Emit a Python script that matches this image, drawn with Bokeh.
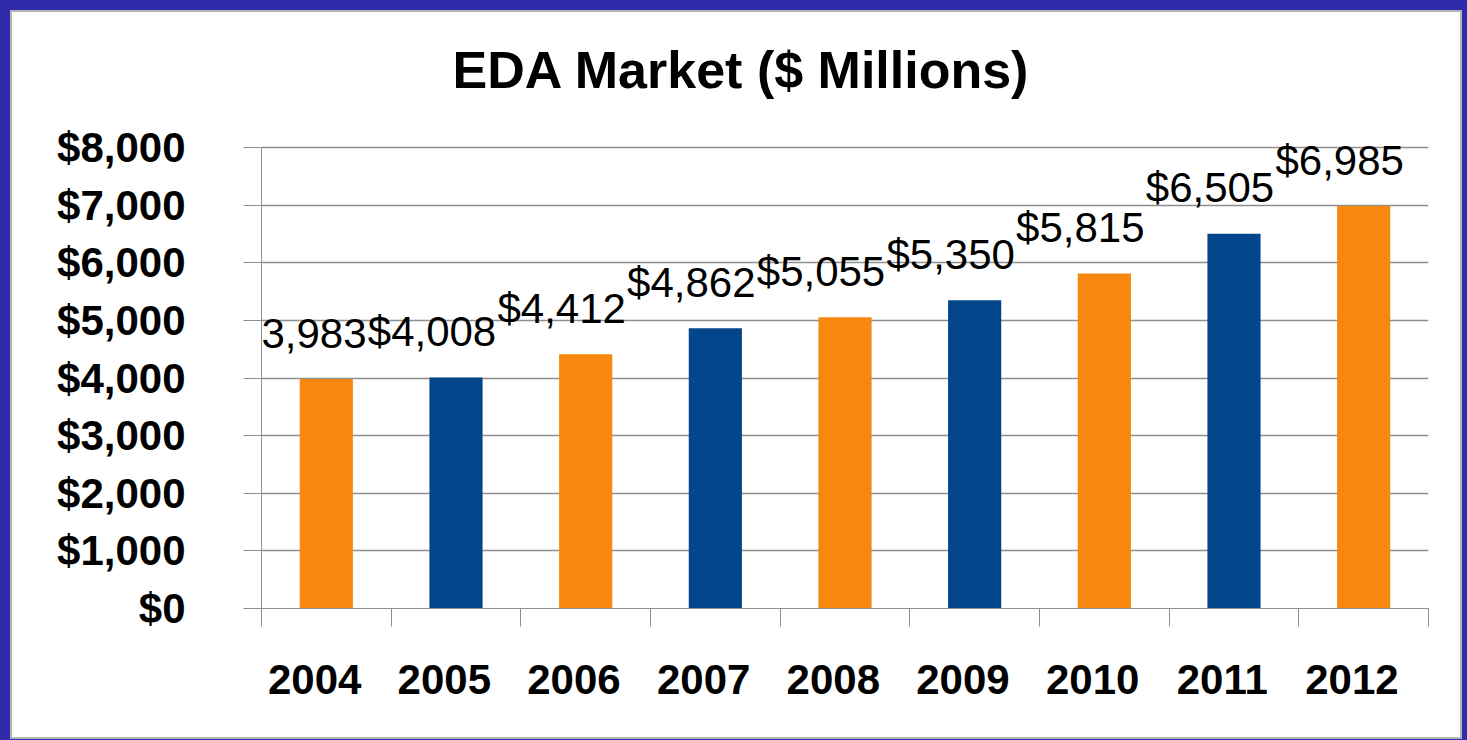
from bokeh.plotting import figure
from bokeh.models import (ColumnDataSource, FactorRange, Range1d, LinearAxis,
                          FixedTicker, NumeralTickFormatter, Label, InlineStyleSheet)
from bokeh.embed import file_html
from bokeh.resources import INLINE

years = ["2004", "2005", "2006", "2007", "2008", "2009", "2010", "2011", "2012"]
market = [3983, 4008, 4412, 4862, 5055, 5350, 5815, 6505, 6985]
bar_colors = ["#F7870F", "#03468C", "#F7870F", "#03468C", "#F7870F",
              "#03468C", "#F7870F", "#03468C", "#F7870F"]
y_ticks = [0, 1000, 2000, 3000, 4000, 5000, 6000, 7000, 8000]
title_text = "EDA Market ($ Millions)"

FONT = "Liberation Sans"
GRAY = "#8f8f8f"

src = ColumnDataSource(dict(year=years, value=market, color=bar_colors))

# the range reaches a little above the top tick so the top value label has room
p = figure(width=1448, height=725, x_range=FactorRange(*years), y_range=Range1d(0, 8400),
           x_axis_type=None, output_backend="svg", toolbar_location=None,
           min_border_left=249, min_border_right=32, min_border_top=112, min_border_bottom=129,
           title=title_text)
p.outline_line_color = None
p.background_fill_color = "white"
p.border_fill_color = "white"
p.stylesheets = [InlineStyleSheet(css=":host { margin: 12px 7px 3px 12px; "
                                      "box-shadow: 0 0 0 2px #b4b4b4, 0 0 0 14px #2e2ca8; }")]

p.title.align = "left"
p.title.offset = 191
p.title.standoff = 51
p.title.text_font = FONT
p.title.text_font_size = "52px"
p.title.text_font_style = "bold"
p.title.text_color = "black"

# y axis
p.yaxis.ticker = FixedTicker(ticks=y_ticks)
p.yaxis.bounds = (y_ticks[0], y_ticks[-1])
p.yaxis.formatter = NumeralTickFormatter(format="$0,0")
p.yaxis.major_label_text_font = FONT
p.yaxis.major_label_text_font_size = "42px"
p.yaxis.major_label_text_font_style = "bold"
p.yaxis.major_label_text_color = "black"
p.yaxis.major_tick_out = 18
p.yaxis.major_tick_in = 0
p.yaxis.minor_tick_line_color = None
p.yaxis.major_tick_line_color = GRAY
p.yaxis.axis_line_color = GRAY
p.yaxis.major_label_standoff = 58
p.ygrid.grid_line_color = GRAY
p.ygrid.grid_line_width = 1.5

# x axis: boundary ticks between the year slots, then year labels (set slightly left)
slot_edges = list(range(len(years) + 1))
tick_axis = LinearAxis(ticker=FixedTicker(ticks=slot_edges),
                       major_tick_out=18, major_tick_in=0, major_tick_line_color=GRAY,
                       minor_tick_line_color=None, axis_line_color=GRAY,
                       major_label_overrides={e: "" for e in slot_edges},
                       major_label_standoff=0)
p.add_layout(tick_axis, "below")

label_pos = [i + 0.41 for i in range(len(years))]
label_axis = LinearAxis(ticker=FixedTicker(ticks=label_pos),
                        major_label_overrides={pos: yr for pos, yr in zip(label_pos, years)},
                        axis_line_color=None, major_tick_line_color=None,
                        minor_tick_line_color=None,
                        major_label_text_font=FONT, major_label_text_font_size="42px",
                        major_label_text_font_style="bold", major_label_text_color="black",
                        major_label_standoff=32)
p.add_layout(label_axis, "below")

p.vbar(x="year", top="value", width=0.41, fill_color="color", line_color=None, source=src)

# value labels (centre of each year's slot on the categorical scale is index + 0.5)
for i, v in enumerate(market):
    p.add_layout(Label(x=i + 0.5, y=v, text="${:,}".format(v), x_offset=-24, y_offset=46,
                       text_align="center", text_baseline="middle", text_font=FONT,
                       text_font_size="42px", text_color="black", level="overlay"))

open("out.html", "w").write(file_html(p, INLINE))
